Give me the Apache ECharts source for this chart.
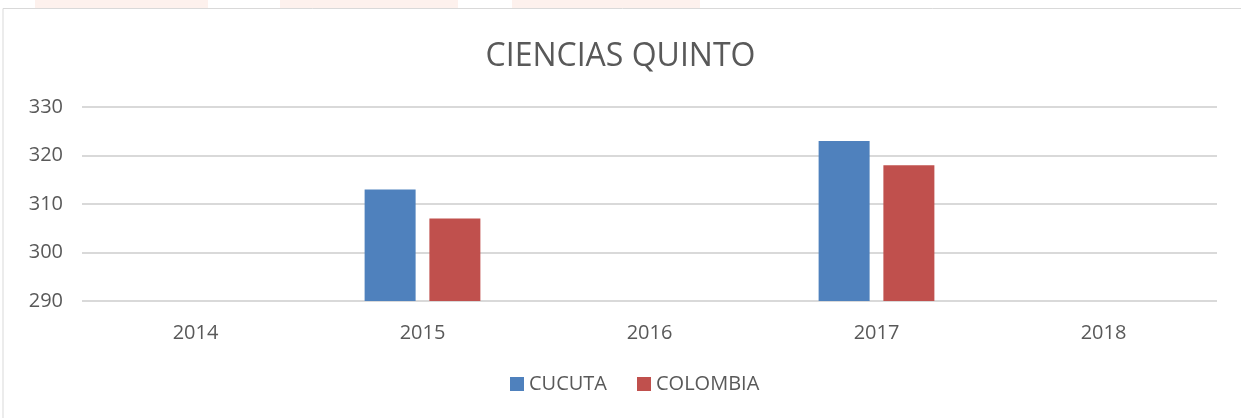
<!DOCTYPE html>
<html>
<head>
<meta charset="utf-8">
<script src="https://cdn.jsdelivr.net/npm/echarts@6/dist/echarts.min.js"></script>
<style>
  html, body { margin: 0; padding: 0; background: #fff; }
  #main { width: 1241px; height: 418px; }
</style>
</head>
<body>
<div id="main"></div>
<script>
// data
var years = ['2014', '2015', '2016', '2017', '2018'];
var cucuta = [null, 313, null, 323, null];
var colombia = [null, 307, null, 318, null];
var yTicks = [290, 300, 310, 320, 330];

var myChart = echarts.init(document.getElementById('main'));
var textColor = '#595959';
var font = '"Open Sans", "Noto Sans", sans-serif';

var option = {
  animation: false,
  backgroundColor: '#fff',
  textStyle: { fontFamily: font },
  graphic: [
    // faint page artifacts at the top and the chart frame
    { type: 'rect', shape: { x: 35, y: 0, width: 173, height: 8 }, style: { fill: '#fdf1ed' }, silent: true },
    { type: 'rect', shape: { x: 280, y: 0, width: 178, height: 8 }, style: { fill: '#fdf1ed' }, silent: true },
    { type: 'rect', shape: { x: 512, y: 0, width: 188, height: 8 }, style: { fill: '#fdf1ed' }, silent: true },
    { type: 'rect', shape: { x: 3, y: 8.5, width: 1260, height: 420 }, style: { fill: 'none', stroke: '#d9d9d9', lineWidth: 1 }, silent: true }
  ],
  title: {
    text: 'CIENCIAS QUINTO',
    left: 'center',
    top: 36,
    textStyle: { color: textColor, fontSize: 32, fontWeight: 'normal', fontFamily: font }
  },
  legend: {
    data: ['CUCUTA', 'COLOMBIA'],
    bottom: 19,
    left: 505,
    itemWidth: 14,
    itemHeight: 14,
    itemGap: 30,
    icon: 'rect',
    textStyle: { color: textColor, fontSize: 20, fontFamily: font }
  },
  grid: { left: 82, right: 24, top: 107, bottom: 117 },
  xAxis: {
    type: 'category',
    data: years,
    axisLine: { show: false },
    axisTick: { show: false },
    axisLabel: { color: textColor, fontSize: 20, margin: 22, fontFamily: font }
  },
  yAxis: {
    type: 'value',
    min: yTicks[0],
    max: yTicks[yTicks.length - 1],
    interval: 10,
    axisLine: { show: false },
    axisTick: { show: false },
    axisLabel: { color: textColor, fontSize: 20, margin: 19, fontFamily: font },
    splitLine: { lineStyle: { color: '#d9d9d9', width: 2 } }
  },
  series: [
    {
      name: 'CUCUTA',
      type: 'bar',
      data: cucuta,
      barWidth: 51,
      barGap: '27%',
      itemStyle: { color: '#4f81bd' }
    },
    {
      name: 'COLOMBIA',
      type: 'bar',
      data: colombia,
      barWidth: 51,
      itemStyle: { color: '#c0504d' }
    }
  ]
};
myChart.setOption(option);
</script>
</body>
</html>
